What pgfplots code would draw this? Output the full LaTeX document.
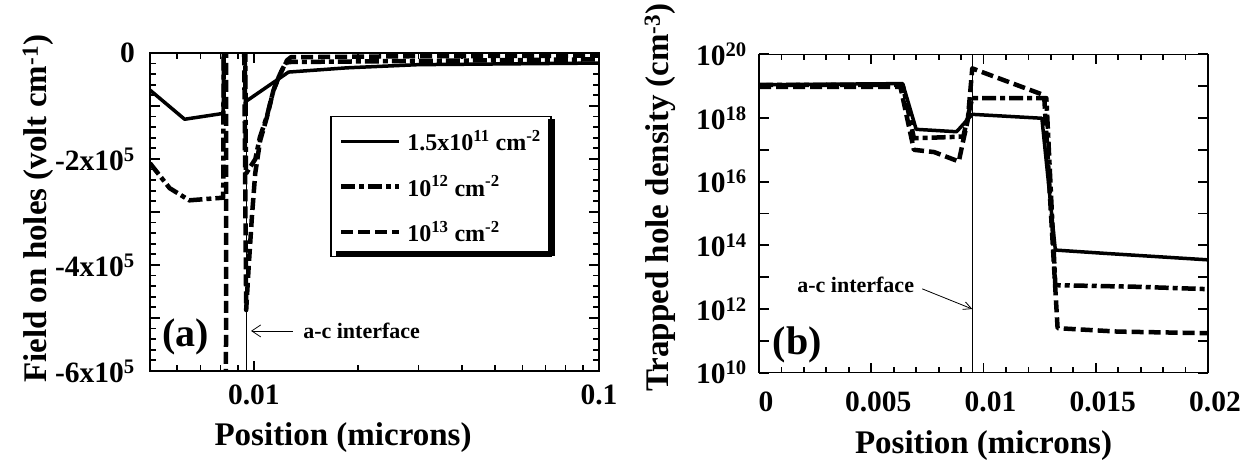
\documentclass[border=0pt]{standalone}
\usepackage{fontspec}
\setmainfont{Liberation Serif}
\usepackage{pgfplots}
\pgfplotsset{compat=1.18}
\usetikzlibrary{arrows.meta}

\pgfplotsset{
  panel/.style={
    scale only axis, width=449pt, anchor=south west,
    axis line style={line width=1.5pt},
    tick style={black, line width=1.8pt},
    major tick length=10pt, minor tick length=6pt,
    xtick pos=both, ytick pos=both, tick align=inside,
    scaled ticks=false,
    tick label style={font=\fontsize{29.5}{30}\selectfont\bfseries, inner sep=0pt},
    label style={font=\fontsize{33}{34}\selectfont\bfseries},
  },
  solidL/.style={black, line width=3.5pt, line join=round},
  ddL/.style={black, line width=4.5pt, dash pattern=on 14pt off 4pt on 5pt off 4pt, line join=round},
  dashL/.style={black, line width=4.5pt, dash pattern=on 12pt off 5pt, line join=round},
}

\begin{document}
\begin{tikzpicture}

% (a) field on holes
\begin{axis}[panel, at={(150pt,91pt)}, height=318pt,
  xmode=log, log basis x=10, xmin=0.005, xmax=0.1,
  xtick={0.01,0.1}, xticklabels={0.01,0.1},
  minor xtick={0.006,0.007,0.008,0.009,0.02,0.03,0.04,0.05,0.06,0.07,0.08,0.09},
  ymin=-600000, ymax=0,
  ytick={-600000,-500000,-400000,-300000,-200000,-100000,0},
  yticklabels={{-6x10\textsuperscript{5}},{},{-4x10\textsuperscript{5}},{},{-2x10\textsuperscript{5}},{},{0}},
  minor y tick num=4,
  xticklabel style={yshift=-14pt}, yticklabel style={xshift=-15pt},
  xlabel={Position (microns)},
  xlabel style={at={(axis description cs:0.43,-0.233)}, anchor=base},
  ylabel={Field on holes (volt cm\textsuperscript{-1})},
  ylabel style={at={(axis description cs:-0.249,0.51)}, anchor=center},
  legend style={at={(axis description cs:0.401,0.802)}, anchor=north west,
    draw=black, line width=1.5pt, fill=white,
    font=\fontsize{24}{26}\selectfont\bfseries,
    inner xsep=8pt, inner ysep=12pt, row sep=19.5pt, column sep=4pt},
  legend cell align=left,
  legend image code/.code={\draw[#1] (0pt,0pt) -- (58pt,0pt);},
  extra description/.code={
    % drop shadow of the legend box (right and bottom strips)
    \fill[black] (0.887,0.792) rectangle (0.903,0.362);
    \fill[black] (0.415,0.378) rectangle (0.903,0.362);
  },
]
\addplot[forget plot, black, line width=0.8pt] coordinates {(0.0095,-600000) (0.0095,0)};

\addplot[solidL] coordinates {
(0.005,-70000) (0.0063,-125000) (0.00815,-114000) (0.0082,300000)
(0.0094,300000) (0.00945,-92000) (0.0126,-36000) (0.0186,-28000)
(0.03,-22000) (0.1,-19000)};
\addlegendentry{1.5x10\textsuperscript{11} cm\textsuperscript{-2}}

\addplot[ddL] coordinates {
(0.005,-208000) (0.0057,-255000) (0.0065,-278000) (0.00815,-273000)
(0.0082,300000) (0.0094,300000) (0.00948,-228000) (0.0101,-200000)
(0.0104,-160000) (0.0109,-120000) (0.0114,-70000) (0.0119,-40000)
(0.0124,-18000) (0.0128,-17000) (0.03,-15000) (0.1,-12000)};
\addlegendentry{10\textsuperscript{12} cm\textsuperscript{-2}}

\addplot[dashL] coordinates {
(0.005,-700000) (0.0083,-700000) (0.00832,300000) (0.0093,300000)
(0.0095,-485000) (0.00966,-403000) (0.00987,-309000) (0.01009,-227000)
(0.01043,-165000) (0.01091,-121000) (0.0114,-70000) (0.01192,-39000)
(0.01247,-14000) (0.0128,-8000) (0.03,-6000) (0.1,-5000)};
\addlegendentry{10\textsuperscript{13} cm\textsuperscript{-2}}

\node[font=\fontsize{40}{42}\selectfont\bfseries] at (axis description cs:0.08,0.107) {(a)};
\draw[line width=0.8pt, -{Straight Barb[length=9pt,width=12pt]}]
  (axis description cs:0.318,0.126) -- (axis description cs:0.225,0.126);
\node[anchor=west, inner sep=0pt, font=\fontsize{22}{24}\selectfont\bfseries]
  at (axis description cs:0.341,0.126) {a-c interface};
\end{axis}

% (b) trapped hole density
\begin{axis}[panel, at={(759pt,89.3pt)}, height=318.4pt,
  xmin=0, xmax=0.02,
  xtick={0,0.005,0.01,0.015,0.02}, xticklabels={0,0.005,0.01,0.015,0.02},
  minor x tick num=4,
  ymode=log, log basis y=10, ymin=1e10, ymax=1e20,
  ytick={1e10,1e11,1e12,1e13,1e14,1e15,1e16,1e17,1e18,1e19,1e20},
  yticklabels={{10\textsuperscript{10}},{},{10\textsuperscript{12}},{},{10\textsuperscript{14}},{},
    {10\textsuperscript{16}},{},{10\textsuperscript{18}},{},{10\textsuperscript{20}}},
  xticklabel style={yshift=-19pt, xshift=7pt}, yticklabel style={xshift=-12pt},
  xlabel={Position (microns)},
  xlabel style={at={(axis description cs:0.5,-0.255)}, anchor=base},
  ylabel={Trapped hole density (cm\textsuperscript{-3})},
  ylabel style={at={(axis description cs:-0.22,0.55)}, anchor=center},
]
\addplot[black, line width=0.8pt] coordinates {(0.0095,1e10) (0.0095,1e20)};

\addplot[solidL] coordinates {
(0,1.1e19) (0.0064,1.2e19) (0.0070,4.4e17) (0.0088,3.7e17)
(0.0095,1.3e18) (0.0126,9.8e17) (0.0132,7.1e13) (0.0154,5.6e13) (0.02,3.5e13)};

\addplot[ddL] coordinates {
(0,1.1e19) (0.0064,1.1e19) (0.0069,2.3e17) (0.0091,2.6e17)
(0.0093,1.1e18) (0.0095,4.2e18) (0.0128,4.2e18) (0.0132,5.6e12)
(0.0168,5.0e12) (0.02,4.2e12)};

\addplot[dashL] coordinates {
(0,9.5e18) (0.0063,9.5e18) (0.0069,1e17) (0.0078,8.5e16) (0.0089,4.3e16)
(0.0091,2e17) (0.0093,8.7e17) (0.0095,3.6e19) (0.0127,5.2e18)
(0.0133,2.5e11) (0.016,1.95e11) (0.02,1.74e11)};

\node[font=\fontsize{40}{42}\selectfont\bfseries] at (axis description cs:0.085,0.087) {(b)};
\node[anchor=west, inner sep=0pt, font=\fontsize{22}{24}\selectfont\bfseries]
  at (axis description cs:0.085,0.277) {a-c interface};
\draw[line width=0.8pt, -{Straight Barb[length=8pt,width=8pt]}]
  (axis cs:0.00727,4.3e12) -- (axis cs:0.0095,1e12);
\end{axis}

\pgfresetboundingbox
\useasboundingbox (0,0) rectangle (1245pt,462pt);
\end{tikzpicture}
\end{document}
